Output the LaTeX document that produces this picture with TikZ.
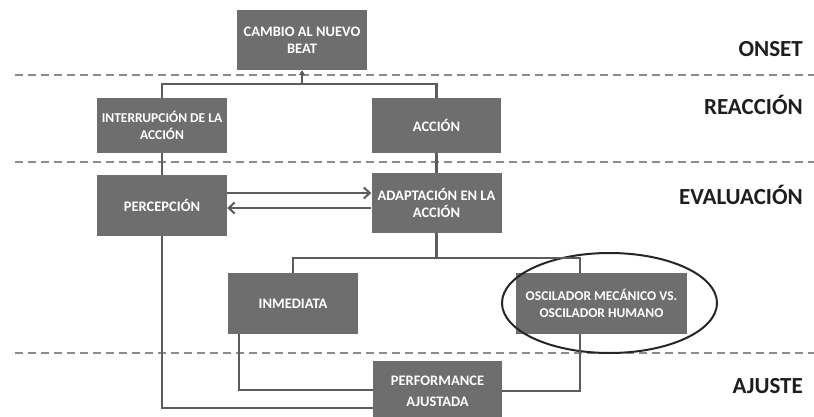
\documentclass[tikz,border=0pt]{standalone}
\usepackage{fontspec}
\setmainfont{Carlito}
\usetikzlibrary{arrows.meta,shapes.geometric,calc}
\definecolor{boxgray}{HTML}{6E6E6E}
\definecolor{linegray}{HTML}{5C5C5C}
\definecolor{dashgray}{HTML}{8C8C8C}
\definecolor{labelc}{HTML}{1E1E1E}
\begin{document}
\begin{tikzpicture}[x=1pt,y=-1pt,
  box/.style={rectangle, fill=boxgray, text=white, inner sep=0pt, align=center,
    font=\fontsize{14.5}{17}\selectfont\bfseries},
  conn/.style={draw=linegray, line width=2.2pt},
  dashline/.style={draw=dashgray, line width=1.8pt, dash pattern=on 8pt off 5pt},
  lab/.style={anchor=east, text=labelc, font=\fontsize{23}{25}\selectfont\bfseries, inner sep=0pt},
  arr/.style={conn, -{Straight Barb[length=6pt,width=11pt,line width=2pt]}}
]
\clip (0,0) rectangle (814,416);
\fill[white] (0,0) rectangle (814,416);

% dashed separators
\draw[dashline] (15,75) -- (814,75);
\draw[dashline] (15,162) -- (814,162);
\draw[dashline] (15,353) -- (814,353);

% boxes
\node[box, minimum width=130pt, minimum height=60pt] (cambio) at (302,40) {CAMBIO AL NUEVO\\BEAT};
\node[box, minimum width=130pt, minimum height=55pt, font=\fontsize{13.5}{17}\selectfont\bfseries] (interr) at (162,125.5) {INTERRUPCIÓN DE LA\\ACCIÓN};
\node[box, minimum width=129pt, minimum height=55pt] (accion) at (436.5,125.5) {ACCIÓN};
\node[box, minimum width=130pt, minimum height=61pt] (percep) at (162,205.5) {PERCEPCIÓN};
\node[box, minimum width=130pt, minimum height=60pt] (adapt) at (436.5,203) {ADAPTACIÓN EN LA\\ACCIÓN};
\node[box, minimum width=130pt, minimum height=61pt] (inmed) at (293,303.5) {INMEDIATA};
\node[box, minimum width=171pt, minimum height=61pt, font=\fontsize{13.5}{17}\selectfont\bfseries] (oscil) at (601.5,303.5) {OSCILADOR MECÁNICO VS.\\OSCILADOR HUMANO};
\node[box, minimum width=129pt, minimum height=60pt, font=\fontsize{14.5}{21}\selectfont\bfseries] (perf) at (437.5,391) {PERFORMANCE\\AJUSTADA};

% ellipse highlight
\node[ellipse, draw=black!85, line width=2pt, minimum width=215pt, minimum height=100pt, inner sep=0pt] (ring) at (609.5,303) {};

% labels
\node[lab] (onset) at (803,49) {ONSET};
\node[lab] (reac) at (803,105) {REACCIÓN};
\node[lab] (eval) at (803,195) {EVALUACIÓN};
\node[lab] (ajuste) at (803,386) {AJUSTE};

% connectors
\coordinate (j1) at (302,84);
\draw[conn] (interr.north) |- (j1) -| (accion.north);
\draw[conn, -{Triangle[length=5pt,width=6pt]}] (j1) -- (cambio.south);
\draw[conn] (interr.south) -- (percep.north);
\draw[conn] (accion.south) -- (adapt.north);
\draw[arr] (percep.east |- 0,193) -- (adapt.west |- 0,193);
\draw[arr] (adapt.west |- 0,208) -- (percep.east |- 0,208);
\coordinate (j2) at (436.5,258);
\draw[conn] (adapt.south) -- (j2);
\draw[conn] (inmed.north) |- (j2) -| (oscil.north -| 580,0);
\draw[conn] (inmed.south -| 239,0) |- (perf.west |- 0,390);
\draw[conn] (percep.south) |- (perf.west |- 0,408);
\draw[conn] (oscil.south -| 580,0) |- (perf.east |- 0,391);
\end{tikzpicture}
\end{document}
